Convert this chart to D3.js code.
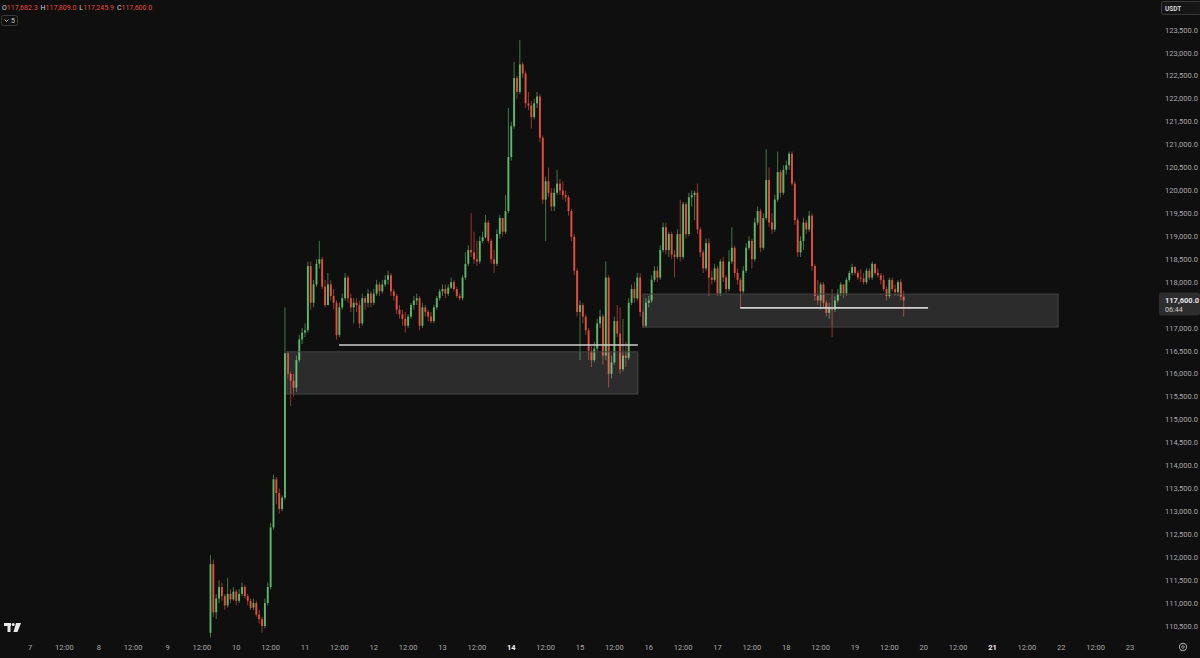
<!DOCTYPE html>
<html><head><meta charset="utf-8">
<script src="https://cdn.jsdelivr.net/npm/d3@7"></script>
<style>html,body{margin:0;padding:0;background:#0f0f0f;overflow:hidden}svg{display:block}</style>
</head><body><svg id="c" width="1200" height="658"></svg>
<script>
// ---------- DATA ----------
// hourly candles, index 0 = hour 63 after 7 Jul 00:00 (9 Jul 15:00)
const startHour = 63;
const firstOpen = 110350;
const closes = [111850,110800,111100,111350,111150,110950,111200,111080,111250,111050,
111200,111350,111150,111050,110900,111000,110750,110650,110500,111000,
111350,112650,113700,113400,113050,113300,116450,116000,115850,115700,
116300,116750,116900,116950,118350,117550,117950,118400,118500,117900,
117500,117950,117700,117550,116850,117450,117650,118100,117650,117450,
117550,117500,117100,117650,117550,117750,117550,117750,117950,117800,
117950,118050,118150,117800,117700,117400,117300,117200,117050,117250,
117500,117600,117650,117050,117450,117350,117250,117150,117450,117650,
117800,117850,117750,117880,118000,117850,117700,117650,118100,118400,
118700,118650,118500,118450,118900,118980,119300,118900,118500,118400,
119050,119400,119100,119550,120730,121400,122450,122150,122750,122550,
121900,121850,121600,121900,122050,121150,119800,120200,119950,119650,
119950,120150,120000,119900,119850,119550,118990,118250,117350,117500,
117250,116950,116500,116300,116550,117100,117250,116400,118100,116000,
116250,117150,116880,116100,116400,116350,117550,117850,117650,118100,
117350,117050,117550,117600,118050,118250,118100,118700,119200,118700,
119050,118600,118550,119050,118550,119700,119050,119850,119900,119950,
119150,118650,118300,118850,118100,118050,118300,117750,118450,118100,
117850,118450,118750,118200,118050,117800,118250,118750,118900,118500,
119300,119550,118750,119400,120230,119300,119150,119800,120400,119950,
120450,120550,120800,120150,119350,118650,118900,119300,119150,119450,
118350,117700,117600,117950,117550,117330,117450,117400,117600,117750,
117950,117750,118050,118200,118330,118200,118100,118080,118000,118250,
118100,118400,118200,118150,118050,117850,117700,118050,117850,117780,
118000,117682.3,117600];
const highs = [112050,111950,111200,111500,111450,111200,111550,111300,111350,111300,
111300,111450,111400,111200,111100,111100,111050,110850,110700,111100,
111450,112750,113800,113750,113500,113350,117450,116500,116050,116000,
116400,116850,117000,117100,118450,118450,118050,118500,118900,118550,
118050,118200,118050,117850,117600,117550,117750,118200,118150,117750,
117650,117650,117600,117750,117700,117850,117800,117850,118050,118000,
118050,118150,118250,118200,117850,117750,117500,117400,117350,117300,
117550,117700,117750,117700,117550,117500,117400,117350,117500,117700,
117850,117950,117950,117950,118100,118050,117900,117750,118150,118650,
118800,119500,119100,118900,119000,119100,119470,119350,118950,118700,
119150,119470,119400,119900,121800,121500,122800,122500,123280,122800,
122600,122150,121950,122000,122150,122100,121200,120300,120500,120050,
120050,120450,120250,120200,120000,119900,119600,119050,118300,117600,
117550,117300,117000,116600,116700,117200,117400,117300,118450,118150,
116400,117250,117500,117450,117200,116700,117650,117950,118000,118200,
118200,117400,117650,117700,118150,118350,118350,118800,119300,119300,
119100,119100,118700,119150,119800,119750,119750,119950,120000,120000,
120150,119200,118700,118950,118950,118250,118400,118350,118500,118550,
118150,118700,119200,118800,118300,118100,118350,118850,119000,118950,
119400,119650,119600,119500,120900,120500,119500,119900,120850,120450,
120550,120650,120850,120850,120200,119400,119000,119400,119350,119550,
119500,118400,118050,118000,118000,117600,117550,117850,117700,117850,
118000,117950,118100,118250,118400,118350,118250,118280,118200,118300,
118300,118450,118400,118300,118200,118150,117900,118100,118100,117950,
118050,118070,117809];
const lows = [110250,110700,110650,111000,111050,110850,110900,111000,111050,110950,
111000,111150,111100,110950,110850,110850,110700,110550,110350,110450,
110950,111300,112600,113150,112950,113000,113250,115900,115300,115500,
115600,116250,116650,116800,116900,117400,117450,117900,118300,117850,
117450,117500,117600,117400,116750,116800,117400,117600,117550,117350,
117100,117350,117000,117050,117400,117450,117450,117500,117700,117700,
117750,117900,117950,117700,117600,117300,117200,117050,116900,117000,
117200,117400,117500,116950,117000,117250,117150,117100,117100,117400,
117600,117700,117650,117700,117850,117800,117650,117600,117600,118050,
118350,118550,118400,118350,118400,118850,118950,118850,118400,118200,
118350,118950,119000,119050,119500,120650,121350,122000,122100,122450,
121800,121750,121350,121550,121800,121050,119700,118900,119850,119550,
119550,119900,119900,119800,119750,119450,118900,118150,117250,116300,
117100,116850,116300,116150,116250,116500,117000,116200,116300,115700,
115900,116200,116800,116000,116050,116150,116300,117500,117550,117600,
117250,117000,117000,117450,117550,118000,118000,118050,118650,118600,
118550,118500,118100,118500,118450,118500,118950,119000,119650,119350,
119050,118550,118200,118250,117700,117950,118000,117700,117700,118000,
117750,117800,118400,118100,117950,117450,117750,118200,118700,118300,
118450,119250,118650,118700,119350,119200,119050,119100,119750,119850,
119900,120350,120450,120100,119250,118550,118550,118700,119050,119100,
118250,117600,117500,117400,117450,117250,117200,116800,117350,117550,
117700,117650,117700,118000,118150,118150,118050,118000,117950,117950,
118050,118050,118150,118100,117950,117800,117600,117650,117800,117700,
117700,117600,117245.9];

// price ticks and time ticks
const priceTicks = [110500,111000,111500,112000,112500,113000,113500,114000,114500,115000,
115500,116000,116500,117000,117500,118000,118500,119000,119500,120000,120500,121000,
121500,122000,122500,123000,123500];
const dayLabels = ["7","8","9","10","11","12","13","14","15","16","17","18","19","20","21","22","23"];
const boldDays = ["14","21"];
// drawings: [startHour, endHour, topPrice, bottomPrice]
const zones = [[89.7,212.2,116480,115560],[214,358.9,117740,117020]];
// horizontal lines: [startHour, endHour, price]
const hLines = [[107.9,212.2,116630],[247.9,313.5,117440]];
const ohlc = {o:"117,682.3", h:"117,809.0", l:"117,245.9", c:"117,600.0"};
const lastPrice = 117600;
const countdown = "06:44";

// ---------- CHART ----------
const svg = d3.select("#c");
const W = 1200, H = 658;
const bg = "#0f0f0f", up = "#5cb868", down = "#e44e3d", axisText = "#a8a8a8";
const font = "Roboto, 'Noto Sans', sans-serif";
svg.append("rect").attr("width",W).attr("height",H).attr("fill",bg);

const x = d3.scaleLinear().domain([0, 16*24]).range([30, 1130]);
const y = d3.scaleLinear().domain([110500, 123500]).range([626, 30]);

const data = closes.map((c,i)=>({
  t: startHour + i,
  o: i===0 ? firstOpen : closes[i-1],
  h: highs[i], l: lows[i], c: c
}));

const plot = svg.append("g");
const bw = 1.9;
// wicks
plot.selectAll("line.w").data(data).enter().append("line")
  .attr("x1",d=>x(d.t)).attr("x2",d=>x(d.t))
  .attr("y1",d=>y(Math.max(d.h,d.o,d.c))).attr("y2",d=>y(Math.min(d.l,d.o,d.c)))
  .attr("stroke",d=>d.c>=d.o?up:down).attr("stroke-width",0.9).attr("opacity",0.7);
// bodies
plot.selectAll("rect.b").data(data).enter().append("rect")
  .attr("x",d=>x(d.t)-bw/2).attr("width",bw)
  .attr("y",d=>y(Math.max(d.o,d.c)))
  .attr("height",d=>Math.max(1, Math.abs(y(d.o)-y(d.c))))
  .attr("fill",d=>d.c>=d.o?up:down);

// zones
svg.selectAll("rect.z").data(zones).enter().append("rect")
  .attr("x",d=>x(d[0])).attr("width",d=>x(d[1])-x(d[0]))
  .attr("y",d=>y(d[2])).attr("height",d=>y(d[3])-y(d[2]))
  .attr("fill","rgba(255,255,255,0.12)").attr("stroke","#454545").attr("stroke-width",1);
// lines
svg.selectAll("line.h").data(hLines).enter().append("line")
  .attr("x1",d=>x(d[0])).attr("x2",d=>x(d[1]))
  .attr("y1",d=>y(d[2])).attr("y2",d=>y(d[2]))
  .attr("stroke","#cfcfcf").attr("stroke-width",1.6);

// right price axis
const pa = svg.append("g");
pa.selectAll("text").data(priceTicks.filter(p=>Math.abs(y(p)-y(lastPrice))>10)).enter().append("text")
  .attr("x",1165).attr("y",d=>y(d)+2.6)
  .attr("fill",axisText).attr("font-size","7.5px").attr("font-family",font)
  .text(d=>d3.format(",.1f")(d));
// current price label
const ly = y(lastPrice);
pa.append("rect").attr("x",1159).attr("y",ly-8).attr("width",41).attr("height",23).attr("rx",2).attr("fill","#2d2d2d");
pa.append("text").attr("x",1165).attr("y",ly+2.6).attr("fill","#e6e6e6")
  .attr("font-size","7.5px").attr("font-family",font).attr("font-weight","bold").text(d3.format(",.1f")(lastPrice));
pa.append("text").attr("x",1165).attr("y",ly+12).attr("fill","#cfcfcf")
  .attr("font-size","7.2px").attr("font-family",font).text(countdown);
// USDT box
pa.append("rect").attr("x",1161.5).attr("y",1.5).attr("width",40).attr("height",13).attr("rx",2)
  .attr("fill","#161616").attr("stroke","#3a3a3a");
pa.append("text").attr("x",1165).attr("y",10.5).attr("fill","#d8d8d8").attr("font-size","6.5px")
  .attr("font-family",font).attr("font-weight","bold").text("USDT");

// bottom time axis
const ta = svg.append("g");
const tickHours = [];
dayLabels.forEach((d,i)=>{ tickHours.push({h:i*24, lab:d, day:true}); if(i<dayLabels.length-1) tickHours.push({h:i*24+12, lab:"12:00", day:false}); });
ta.selectAll("text").data(tickHours).enter().append("text")
  .attr("x",d=>x(d.h)).attr("y",650).attr("text-anchor","middle")
  .attr("font-size","7.5px").attr("font-family",font)
  .attr("fill",d=>boldDays.includes(d.lab)?"#f0f0f0":axisText)
  .attr("font-weight",d=>boldDays.includes(d.lab)?"bold":"normal")
  .text(d=>d.lab);
// gear icon
ta.append("circle").attr("cx",1183).attr("cy",647).attr("r",3.6).attr("fill","none").attr("stroke","#9a9a9a").attr("stroke-width",1.1);
ta.append("circle").attr("cx",1183).attr("cy",647).attr("r",1.3).attr("fill","none").attr("stroke","#9a9a9a").attr("stroke-width",0.9);

// header OHLC
const hd = svg.append("text").attr("x",2).attr("y",9.5).attr("font-size","7px").attr("font-family",font);
[["O",ohlc.o],["H",ohlc.h],["L",ohlc.l],["C",ohlc.c]].forEach((p,i)=>{
  hd.append("tspan").attr("fill","#cfcfcf").attr("dx", i===0?0:3).text(p[0]);
  hd.append("tspan").attr("fill","#e6493c").text(p[1]);
});
// collapse button
svg.append("rect").attr("x",1.5).attr("y",15.5).attr("width",16).attr("height",10).attr("rx",2)
  .attr("fill","none").attr("stroke","#3a3a3a");
svg.append("path").attr("d","M4.5 19.5 L6.5 21.5 L8.5 19.5").attr("fill","none").attr("stroke","#cfcfcf").attr("stroke-width",0.9);
svg.append("text").attr("x",11).attr("y",23.3).attr("fill","#cfcfcf").attr("font-size","7px").attr("font-family",font).text("5");

// TV logo
const lg = svg.append("g").attr("fill","#e8e8e8");
lg.append("rect").attr("x",4).attr("y",623).attr("width",7).attr("height",3);
lg.append("rect").attr("x",7.5).attr("y",623).attr("width",3).attr("height",9);
lg.append("circle").attr("cx",13.2).attr("cy",624.5).attr("r",1.5);
lg.append("path").attr("d","M16 623 L21 623 L17.5 632 L13.5 632 Z");
</script></body></html>
